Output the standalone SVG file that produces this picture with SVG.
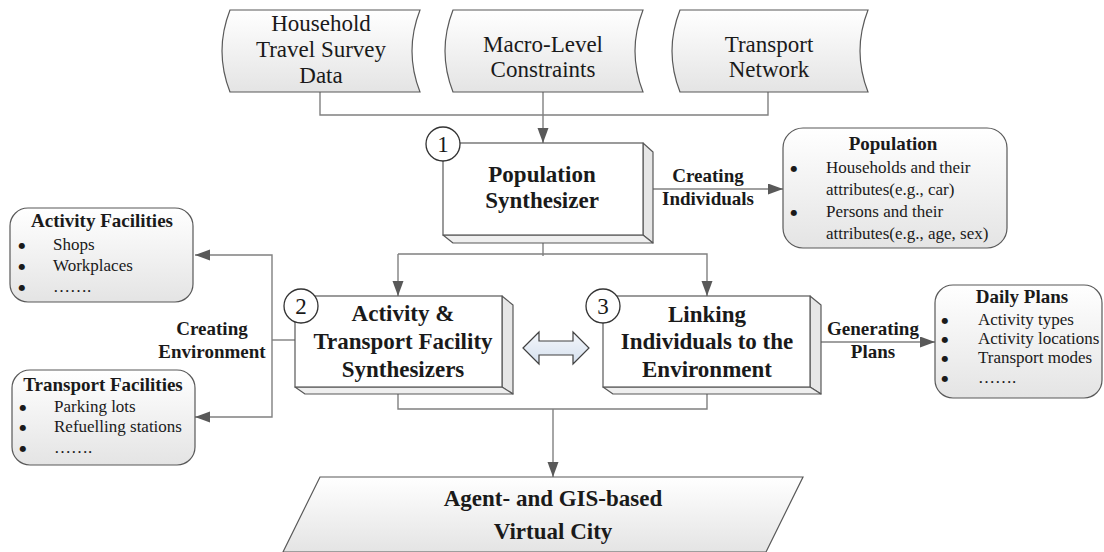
<svg xmlns="http://www.w3.org/2000/svg" width="1104" height="552" viewBox="0 0 1104 552">
<defs>
<linearGradient id="g" x1="0" y1="0" x2="0" y2="1"><stop offset="0" stop-color="#ffffff"/><stop offset="1" stop-color="#e4e4e4"/></linearGradient>
<linearGradient id="gb" x1="0" y1="0" x2="0" y2="1"><stop offset="0" stop-color="#f4f7fb"/><stop offset="1" stop-color="#d5e0ee"/></linearGradient>
<marker id="ah" markerUnits="userSpaceOnUse" markerWidth="16" markerHeight="12" refX="15" refY="5.5" orient="auto"><path d="M0,0 L15,5.5 L0,11 z" fill="#595959"/></marker>
</defs>
<style>
.sh{fill:url(#g);stroke:#595959;stroke-width:1.2}
.face{fill:#fff;stroke:#595959;stroke-width:1.2}
.side{fill:#e6e6e6;stroke:#595959;stroke-width:1.2;stroke-linejoin:round}
.bot{fill:#efefef;stroke:#595959;stroke-width:1.2;stroke-linejoin:round}
.cn{fill:none;stroke:#808080;stroke-width:1.4}
.ar{marker-end:url(#ah)}
.t{font-family:"Liberation Serif","Times New Roman",serif;fill:#1a1a1a}
.big{font-size:23px;font-weight:bold;text-anchor:middle}
.reg{font-size:23px;text-anchor:middle}
.lab{font-size:19px;font-weight:bold;text-anchor:middle}
.it{font-size:17px}
.bul{font-family:"DejaVu Sans",sans-serif;font-size:8px;text-anchor:middle;fill:#1a1a1a}
.num{font-size:23px;text-anchor:middle}
.circ{fill:#fff;stroke:#333;stroke-width:1.3}
</style>

<g id="connectors">
<path class="cn" d="M320,92 V115 H768 V92"/>
<path class="cn ar" d="M543,92 V143"/>
<path class="cn ar" d="M643,189 H783"/>
<path class="cn" d="M543,243 V256"/>
<path class="cn ar" d="M398,254 H707 V296"/>
<path class="cn ar" d="M398,254 V296"/>
<path class="cn" d="M295,340 H272"/>
<path class="cn ar" d="M272,340 V255 H195"/>
<path class="cn ar" d="M272,340 V417 H195"/>
<path class="cn ar" d="M810,342 H935"/>
<path class="cn" d="M398,387 V409 H707 V387"/>
<path class="cn ar" d="M553,409 V477"/>
</g>

<g id="household">
<path class="sh" d="M230,10 H420 Q404,51 420,92 H230 Q214,51 230,10 Z"/>
<text class="t reg" x="321" y="31">Household</text>
<text class="t reg" x="321" y="57">Travel Survey</text>
<text class="t reg" x="321" y="83">Data</text>
</g>
<g id="macro">
<path class="sh" d="M453,10 H643 Q627,51 643,92 H453 Q437,51 453,10 Z"/>
<text class="t reg" x="543" y="52">Macro-Level</text>
<text class="t reg" x="543" y="77">Constraints</text>
</g>
<g id="network">
<path class="sh" d="M680,10 H868 Q852,51 868,92 H680 Q664,51 680,10 Z"/>
<text class="t reg" x="769" y="52">Transport</text>
<text class="t reg" x="769" y="77">Network</text>
</g>

<g id="popsynth">
<polygon class="side" points="643,143 653,152 653,243 643,235"/>
<polygon class="bot" points="443,235 453,243 653,243 643,235"/>
<rect class="face" x="443" y="143" width="200" height="92"/>
<circle class="circ" cx="443" cy="144" r="17"/>
<text class="t num" x="443" y="152">1</text>
<text class="t big" x="542" y="182">Population</text>
<text class="t big" x="542" y="208">Synthesizer</text>
</g>

<g id="label-individuals">
<text class="t lab" x="708" y="182">Creating</text>
<text class="t lab" x="708" y="205">Individuals</text>
</g>

<g id="population">
<rect class="sh" x="783" y="128" width="224" height="120" rx="20"/>
<text class="t lab" x="893" y="150">Population</text>
<text class="bul" x="794" y="171">●</text>
<text class="t it" x="826" y="173" font-size="16.5">Households and their</text>
<text class="t it" x="826" y="195" font-size="16.5">attributes(e.g., car)</text>
<text class="bul" x="794" y="215">●</text>
<text class="t it" x="826" y="217" font-size="16.5">Persons and their</text>
<text class="t it" x="826" y="239" font-size="16.5">attributes(e.g., age, sex)</text>
</g>

<g id="actfac">
<rect class="sh" x="10" y="208" width="183" height="94" rx="18"/>
<text class="t lab" x="102" y="227">Activity Facilities</text>
<text class="bul" x="22" y="248">●</text>
<text class="t it" x="53" y="250">Shops</text>
<text class="bul" x="22" y="269">●</text>
<text class="t it" x="53" y="271">Workplaces</text>
<text class="bul" x="22" y="290">●</text>
<text class="t it" x="53" y="292">…….</text>
</g>

<g id="label-environment">
<text class="t lab" x="212" y="335">Creating</text>
<text class="t lab" x="212" y="358">Environment</text>
</g>

<g id="trfac">
<rect class="sh" x="12" y="370" width="183" height="95" rx="18"/>
<text class="t lab" x="103" y="391">Transport Facilities</text>
<text class="bul" x="23" y="410">●</text>
<text class="t it" x="54" y="412">Parking lots</text>
<text class="bul" x="23" y="430">●</text>
<text class="t it" x="54" y="432">Refuelling stations</text>
<text class="bul" x="23" y="451">●</text>
<text class="t it" x="54" y="453">…….</text>
</g>

<g id="facsynth">
<polygon class="side" points="502,296 513,305 513,394 502,387"/>
<polygon class="bot" points="295,387 305,394 513,394 502,387"/>
<rect class="face" x="295" y="296" width="207" height="91"/>
<circle class="circ" cx="301" cy="306" r="17"/>
<text class="t num" x="301" y="314">2</text>
<text class="t big" x="403" y="321">Activity &amp;</text>
<text class="t big" x="403" y="349">Transport Facility</text>
<text class="t big" x="403" y="377">Synthesizers</text>
</g>

<g id="dblarrow">
<polygon fill="url(#gb)" stroke="#404040" stroke-width="1.2" points="523,348 539,332 539,341 573,341 573,332 589,348 573,364 573,355 539,355 539,364"/>
</g>

<g id="linking">
<polygon class="side" points="810,296 821,305 821,394 810,387"/>
<polygon class="bot" points="603,387 613,394 821,394 810,387"/>
<rect class="face" x="603" y="296" width="207" height="91"/>
<circle class="circ" cx="603" cy="306" r="17"/>
<text class="t num" x="603" y="314">3</text>
<text class="t big" x="707" y="322">Linking</text>
<text class="t big" x="707" y="349">Individuals to the</text>
<text class="t big" x="707" y="377">Environment</text>
</g>

<g id="label-plans">
<text class="t lab" x="873" y="335">Generating</text>
<text class="t lab" x="873" y="358">Plans</text>
</g>

<g id="dailyplans">
<rect class="sh" x="935" y="285" width="167" height="113" rx="18"/>
<text class="t lab" x="1022" y="303">Daily Plans</text>
<text class="bul" x="945" y="323">●</text>
<text class="t it" x="978" y="325">Activity types</text>
<text class="bul" x="945" y="342">●</text>
<text class="t it" x="978" y="344">Activity locations</text>
<text class="bul" x="945" y="361">●</text>
<text class="t it" x="978" y="363">Transport modes</text>
<text class="bul" x="945" y="381">●</text>
<text class="t it" x="978" y="383">…….</text>
</g>

<g id="virtualcity">
<polygon class="sh" points="320,477 803,477 766,552 283,552"/>
<text class="t big" x="553" y="506" font-size="26">Agent- and GIS-based</text>
<text class="t big" x="553" y="539" font-size="26">Virtual City</text>
</g>
</svg>
